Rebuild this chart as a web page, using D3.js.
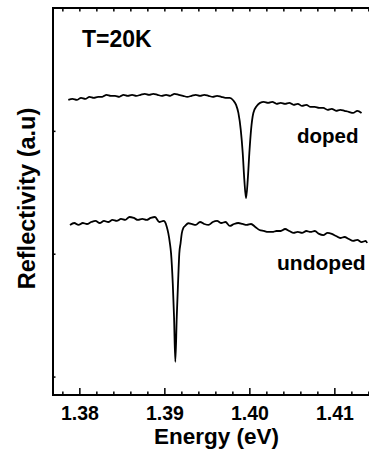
<!DOCTYPE html>
<html>
<head>
<meta charset="utf-8">
<script src="https://cdn.jsdelivr.net/npm/d3@7"></script>
<style>
  body { margin: 0; background: #fff; }
  svg { display: block; font-family: "Liberation Sans", Arial, sans-serif; font-weight: bold; }
</style>
</head>
<body>
<div id="chart"></div>
<script>
const width = 369,
      height = 452;

// energy (eV) and reflectivity (a.u.)
const dopedE = [1.3787,1.3792,1.3797,1.3802,1.3807,1.3812,1.3817,1.3822,1.3827,1.3832,1.3837,1.3842,1.3847,1.3852,1.3857,1.3862,1.3867,1.3872,1.3877,1.3882,1.3887,1.3892,1.3897,1.3902,1.3907,1.3912,1.3917,1.3922,1.3927,1.3932,1.3937,1.3942,1.3947,1.3952,1.3957,1.3962,1.3967,1.3972,1.3977,
  1.39812,1.39844,1.39871,1.39899,1.39922,1.39941,1.39961,1.39981,1.40000,1.40020,1.40047,1.40087,1.40126,
  1.4017,1.4022,1.4027,1.4032,1.4037,1.4042,1.4047,1.4052,1.4057,1.4062,1.4067,1.4072,1.4077,1.4082,1.4087,1.4092,1.4097,1.4102,1.4107,1.4112,1.4117,1.4122,1.4127,1.4132];
const dopedR = [3.252,3.260,3.252,3.269,3.260,3.277,3.269,3.277,3.277,3.293,3.285,3.285,3.277,3.293,3.285,3.293,3.285,3.293,3.301,3.293,3.301,3.293,3.285,3.293,3.285,3.301,3.293,3.285,3.277,3.285,3.293,3.285,3.293,3.285,3.277,3.285,3.277,3.269,3.269,
  3.247,3.212,3.146,3.008,2.820,2.601,2.451,2.601,2.820,3.008,3.146,3.203,3.228,
  3.236,3.228,3.236,3.220,3.228,3.220,3.228,3.212,3.220,3.203,3.212,3.195,3.195,3.187,3.187,3.171,3.179,3.163,3.171,3.163,3.155,3.146,3.163,3.146];

const undopedE = [1.3789,1.3794,1.3799,1.3804,1.3809,1.3814,1.3819,1.3824,1.3829,1.3834,1.3839,1.3844,1.3849,1.3854,1.3859,1.3864,1.3869,1.3874,1.3879,1.3884,1.3889,1.3894,1.3899,
  1.39008,1.39029,1.39047,1.39065,1.39079,1.39099,1.39114,1.39129,1.39146,1.39161,1.39176,1.39191,1.39205,1.39224,1.39244,1.39282,
  1.3932,1.3937,1.3942,1.3947,1.3952,1.3957,1.3962,1.3967,1.3972,1.3977,1.3982,1.3987,1.3992,1.3997,1.4002,1.4007,1.4012,1.4017,1.4022,1.4027,1.4032,1.4037,1.4042,1.4047,1.4052,1.4057,1.4062,1.4067,1.4072,1.4077,1.4082,1.4087,1.4092,1.4097,1.4102,1.4107,1.4112,1.4117,1.4122,1.4127,1.4132,1.4137,1.41385];
const undopedR = [2.234,2.250,2.234,2.250,2.242,2.258,2.267,2.250,2.267,2.258,2.275,2.267,2.283,2.275,2.299,2.291,2.275,2.283,2.275,2.291,2.299,2.258,2.267,
  2.258,2.218,2.166,2.087,2.003,1.759,1.487,1.120,1.487,1.759,2.003,2.087,2.166,2.210,2.226,2.248,
  2.242,2.234,2.258,2.242,2.234,2.258,2.267,2.250,2.258,2.226,2.242,2.250,2.242,2.234,2.242,2.218,2.193,2.185,2.177,2.177,
  2.185,2.185,2.201,2.185,2.169,2.177,2.169,2.185,2.177,2.185,2.161,2.152,2.169,2.161,2.144,2.128,2.136,2.120,2.104,2.112,
  2.095,2.104,2.087];

const xMajorTicks = [1.38, 1.39, 1.40, 1.41];
const xMinorTicks = [1.378,1.382,1.384,1.386,1.388,1.392,1.394,1.396,1.398,1.402,1.404,1.406,1.408,1.412,1.414];
const yTicks = [1, 2, 3];

const chart = d3.select('#chart')
                .append('svg')
                .attr('width', width)
                .attr('height', height);

const xScale = d3.scaleLinear()
                 .domain([1.3769, 1.4145])
                 .range([53, 372.6]);

const yScale = d3.scaleLinear()
                 .domain([0.85, 4.0])
                 .range([395, 8]);

const x0 = xScale.range()[0], x1 = xScale.range()[1],
      y0 = yScale.range()[0], y1 = yScale.range()[1];

// bottom axis, ticks inward
chart.append('g')
     .attr('transform', 'translate(0,' + y0 + ')')
     .call(d3.axisBottom(xScale).tickValues(xMinorTicks).tickSize(-3.5).tickSizeOuter(0).tickFormat(''))
     .call(g => g.select('.domain').remove());

chart.append('g')
     .attr('class', 'x-major')
     .attr('transform', 'translate(0,' + y0 + ')')
     .call(d3.axisBottom(xScale).tickValues(xMajorTicks).tickSize(-7).tickSizeOuter(0)
             .tickPadding(11.5).tickFormat(d3.format('.2f')))
     .call(g => g.select('.domain').remove());

// top axis
chart.append('g')
     .attr('transform', 'translate(0,' + y1 + ')')
     .call(d3.axisTop(xScale).tickValues(xMinorTicks.concat(xMajorTicks)).tickSize(-3.5).tickSizeOuter(0).tickFormat(''))
     .call(g => g.select('.domain').remove());

// left axis
chart.append('g')
     .attr('transform', 'translate(' + x0 + ',0)')
     .call(d3.axisLeft(yScale).tickValues(yTicks).tickSize(-2.5).tickSizeOuter(0).tickFormat(''))
     .call(g => g.select('.domain').remove());

chart.selectAll('.tick line')
     .attr('stroke', '#000')
     .attr('stroke-width', 1.5);

chart.selectAll('.x-major text')
     .attr('fill', '#000')
     .style('font-size', '19.5px')
     .style('font-family', '"Liberation Sans", Arial, sans-serif')
     .style('font-weight', 'bold');

// frame
chart.append('rect')
     .attr('x', x0)
     .attr('y', y1)
     .attr('width', x1 - x0)
     .attr('height', y0 - y1)
     .attr('fill', 'none')
     .attr('stroke', '#000')
     .attr('stroke-width', 2);

const line = d3.line()
               .x(d => xScale(d[0]))
               .y(d => yScale(d[1]))
               .curve(d3.curveMonotoneX);

chart.append('path')
     .datum(d3.zip(dopedE, dopedR))
     .attr('d', line)
     .attr('fill', 'none')
     .attr('stroke', '#000')
     .attr('stroke-width', 1.8);

chart.append('path')
     .datum(d3.zip(undopedE, undopedR))
     .attr('d', line)
     .attr('fill', 'none')
     .attr('stroke', '#000')
     .attr('stroke-width', 1.8);

chart.append('text')
     .attr('x', 82)
     .attr('y', 47)
     .style('font-size', '23px')
     .text('T=20K');

chart.append('text')
     .attr('x', 297)
     .attr('y', 143)
     .style('font-size', '20.5px')
     .text('doped');

chart.append('text')
     .attr('x', 277)
     .attr('y', 270)
     .style('font-size', '21px')
     .text('undoped');

chart.append('text')
     .attr('x', 216.5)
     .attr('y', 444)
     .attr('text-anchor', 'middle')
     .style('font-size', '22.5px')
     .text('Energy (eV)');

chart.append('text')
     .attr('transform', 'rotate(-90)')
     .attr('x', -198.5)
     .attr('y', 35)
     .attr('text-anchor', 'middle')
     .style('font-size', '23.5px')
     .text('Reflectivity (a.u)');
</script>
</body>
</html>
